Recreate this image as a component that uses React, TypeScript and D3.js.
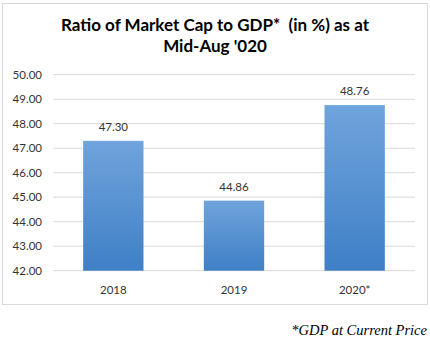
import React from "react";
import * as d3 from "d3";

const categories = ["2018", "2019", "2020*"];
const values = [47.3, 44.86, 48.76];
const yTicks = [42, 43, 44, 45, 46, 47, 48, 49, 50];
const titleLines = ["Ratio of Market Cap to GDP*  (in %) as at", "Mid-Aug '020"];
const footnote = "*GDP at Current Price";

export default function App() {
  const W = 430, H = 341;
  const left = 53, right = 415, top = 74.7, bottom = 270.7;
  const x = d3.scaleBand<string>().domain(categories).range([left, right]).paddingInner(0.5).paddingOuter(0.25);
  const y = d3.scaleLinear().domain([42, 50]).range([bottom, top]);
  const font = "Lato, 'Open Sans', sans-serif";
  return (
    <svg width={W} height={H} style={{ position: "absolute", left: 0, top: 0, background: "#fff" }}>
      <defs>
        <linearGradient id="barGrad" x1="0" y1="0" x2="0" y2="1">
          <stop offset="0" stopColor="#6fa4dc" />
          <stop offset="1" stopColor="#3f7fc6" />
        </linearGradient>
      </defs>
      <rect x={2.5} y={3.5} width={425} height={301} fill="#fff" stroke="#d9d9d9" />
      {titleLines.map((t, i) => (
        <text key={i} x={215} y={31 + i * 21} textAnchor="middle" fontFamily={font} fontWeight="bold" fontSize={17} fill="#000" style={{ whiteSpace: "pre" }}>{t}</text>
      ))}
      {yTicks.map((t) => (
        <g key={t}>
          <line x1={left} x2={right} y1={y(t)} y2={y(t)} stroke="#d9d9d9" />
          <text x={42} y={y(t)} dy="0.35em" textAnchor="end" fontFamily={font} fontSize={11.5} fill="#333">{t.toFixed(2)}</text>
        </g>
      ))}
      {categories.map((c, i) => (
        <g key={c}>
          <rect x={x(c)} y={y(values[i])} width={x.bandwidth()} height={y(42) - y(values[i])} fill="url(#barGrad)" />
          <text x={x(c)! + x.bandwidth() / 2} y={y(values[i]) - 14} dy="0.35em" textAnchor="middle" fontFamily={font} fontSize={11.5} fill="#333">{values[i].toFixed(2)}</text>
          <text x={x(c)! + x.bandwidth() / 2} y={290} dy="0.35em" textAnchor="middle" fontFamily={font} fontSize={11.5} fill="#333">{c}</text>
        </g>
      ))}
      <text x={427} y={335} textAnchor="end" fontFamily="'Liberation Serif', 'DejaVu Serif', serif" fontStyle="italic" fontSize={14.5} fill="#000">{footnote}</text>
    </svg>
  );
}
